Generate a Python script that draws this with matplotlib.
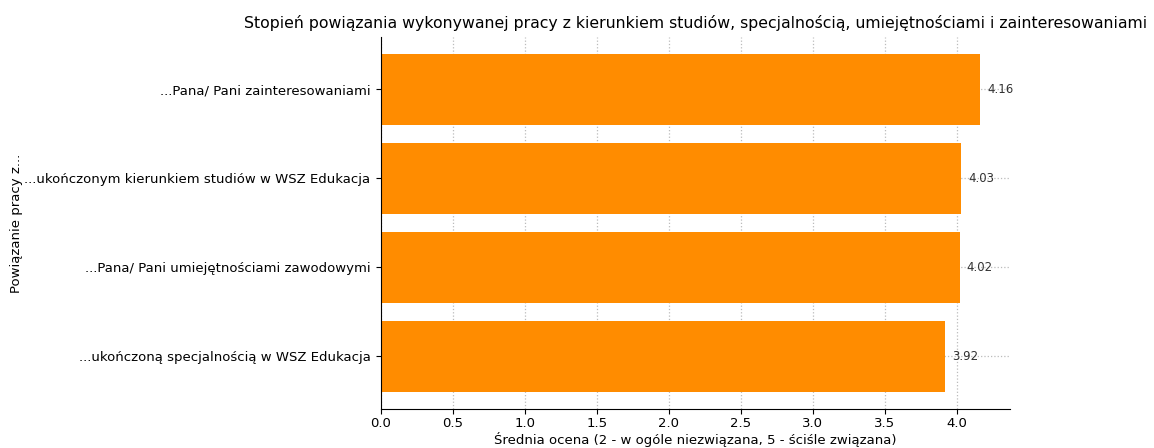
import matplotlib
matplotlib.use("Agg")
import matplotlib.pyplot as plt

# data, listed bottom to top as barh draws them
categories = [
    "...ukończoną specjalnością w WSZ Edukacja",
    "...Pana/ Pani umiejętnościami zawodowymi",
    "...ukończonym kierunkiem studiów w WSZ Edukacja",
    "...Pana/ Pani zainteresowaniami",
]
scores = [3.92, 4.02, 4.03, 4.16]

fig = plt.figure(figsize=(11.54, 4.48), dpi=100)
ax = fig.add_axes([0.330, 0.087, 0.545, 0.831])

bars = ax.barh(categories, scores, color="darkorange", height=0.8, zorder=2)
for bar, val in zip(bars, scores):
    ax.text(bar.get_width() + 0.05, bar.get_y() + bar.get_height() / 2, f"{val:.2f}",
            va="center", ha="left", fontsize=8.5, color="#333333", zorder=3)

ax.grid(True, linestyle=":", color="#bbbbbb", linewidth=0.9, zorder=0)
ax.set_axisbelow(True)
ax.spines["top"].set_visible(False)
ax.spines["right"].set_visible(False)
ax.tick_params(labelsize=9.5, pad=2)
ax.tick_params(axis="y", pad=4)

ax.set_xlabel("Średnia ocena (2 - w ogóle niezwiązana, 5 - ściśle związana)", fontsize=9.5, labelpad=2)
ax.set_ylabel("Powiązanie pracy z...", fontsize=9.5, labelpad=1)
ax.set_title("Stopień powiązania wykonywanej pracy z kierunkiem studiów, specjalnością, umiejętnościami i zainteresowaniami",
             fontsize=11.3, pad=6)

fig.savefig("out.png", dpi=100)
